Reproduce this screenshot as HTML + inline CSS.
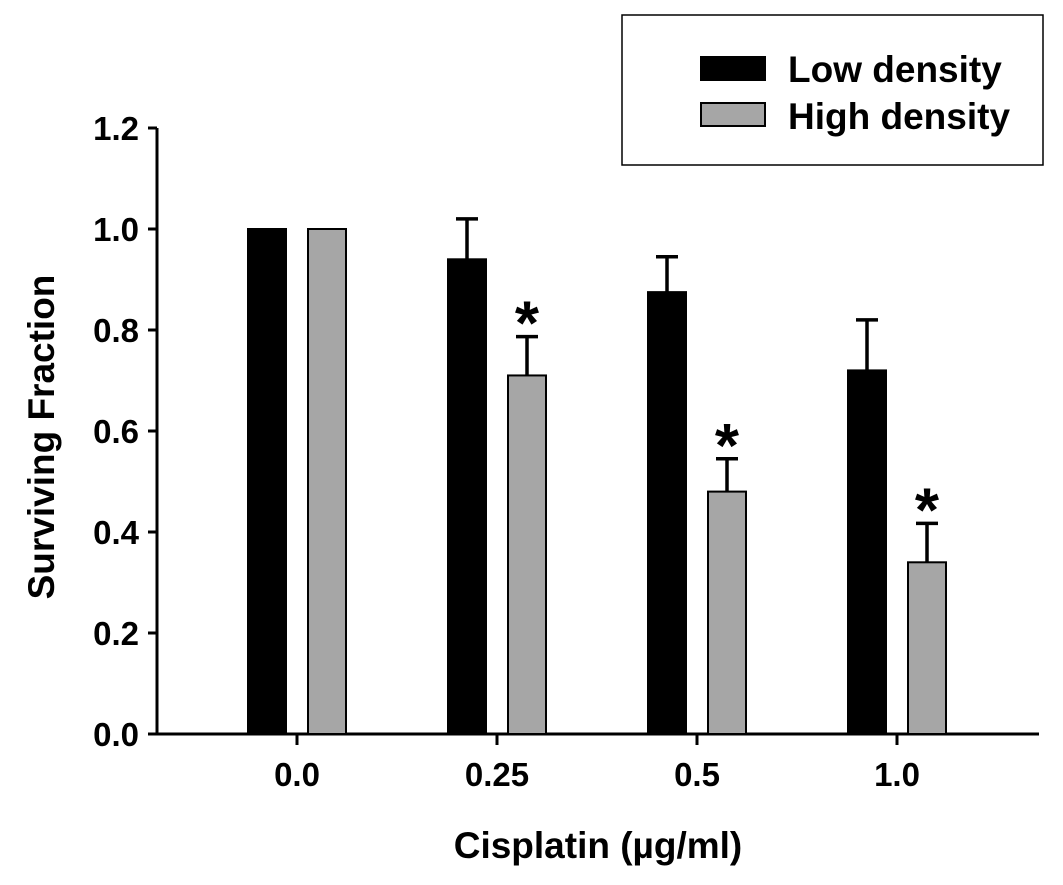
<!DOCTYPE html>
<html><head><meta charset="utf-8"><style>
body{margin:0;background:#fff}
svg text{font-family:"Liberation Sans",Arial,sans-serif;font-weight:bold;fill:#000}
</style></head><body>
<svg width="1063" height="880" xmlns="http://www.w3.org/2000/svg">
<g id="plot"></g>
<g>
<rect x="622" y="15" width="421" height="150" fill="#fff" stroke="#000" stroke-width="1.5"/>
<rect x="701" y="57" width="64" height="23" fill="#000" stroke="#000" stroke-width="2"/>
<text x="788" y="82" font-size="37">Low density</text>
<rect x="701" y="103" width="64" height="23" fill="#a6a6a6" stroke="#000" stroke-width="2"/>
<text x="788" y="129" font-size="37">High density</text>
</g>
<text transform="translate(54,437) rotate(-90)" text-anchor="middle" font-size="37">Surviving Fraction</text>
<text x="598" y="858" text-anchor="middle" font-size="37">Cisplatin (µg/ml)</text>
</svg>
<script>
const categories=["0.0","0.25","0.5","1.0"];
const lowVals=[1.0,0.94,0.875,0.72];
const lowErr=[0,0.08,0.07,0.10];
const highVals=[1.0,0.71,0.48,0.34];
const highErr=[0,0.077,0.065,0.077];
const sig=[false,true,true,true];
const yTicks=[0,0.2,0.4,0.6,0.8,1.0,1.2];
const NS="http://www.w3.org/2000/svg";
const g=document.getElementById('plot');
const y=v=>734-v*505;
const x=i=>297+i*200;
function mk(t,a){const e=document.createElementNS(NS,t);for(const k in a)e.setAttribute(k,a[k]);g.appendChild(e);return e;}
let e;
e=mk('line',{x1:157,y1:128,x2:157,y2:735,stroke:'#000','stroke-width':3});


e=mk('line',{x1:148,y1:734,x2:1039,y2:734,stroke:'#000','stroke-width':3});


yTicks.forEach(v=>{
 e=mk('line',{x1:148,y1:y(v),x2:157,y2:y(v),stroke:'#000','stroke-width':3});
 
 
 e=mk('text',{x:139,y:y(v)+12,'text-anchor':'end','font-size':33});
 e.textContent=v.toFixed(1);
 
 
});
categories.forEach((c,i)=>{
 e=mk('line',{x1:x(i),y1:734,x2:x(i),y2:745,stroke:'#000','stroke-width':3});
 
 
 e=mk('text',{x:x(i),y:786,'text-anchor':'middle','font-size':33});
 e.textContent=c;
 
 
 [[lowVals,lowErr,-30,'#000','low'],[highVals,highErr,30,'#a6a6a6','high']].forEach(([vals,errs,off,col,nm])=>{
  const cx=x(i)+off;
  if(errs[i]>0){
   e=mk('path',{d:`M${cx} ${y(vals[i])}V${y(vals[i]+errs[i])}M${cx-11} ${y(vals[i]+errs[i])}H${cx+11}`,stroke:'#000','stroke-width':3.5,fill:'none'});
   
   
  }
  e=mk('rect',{x:cx-19,y:y(vals[i]),width:38,height:734-y(vals[i]),fill:col,stroke:'#000','stroke-width':2});
  
  
 });
 if(sig[i]){
  e=mk('text',{x:x(i)+30,y:y(highVals[i]+highErr[i])+8,'text-anchor':'middle','font-size':62});
  e.textContent='*';
  
  
 }
});
</script>
</body></html>
